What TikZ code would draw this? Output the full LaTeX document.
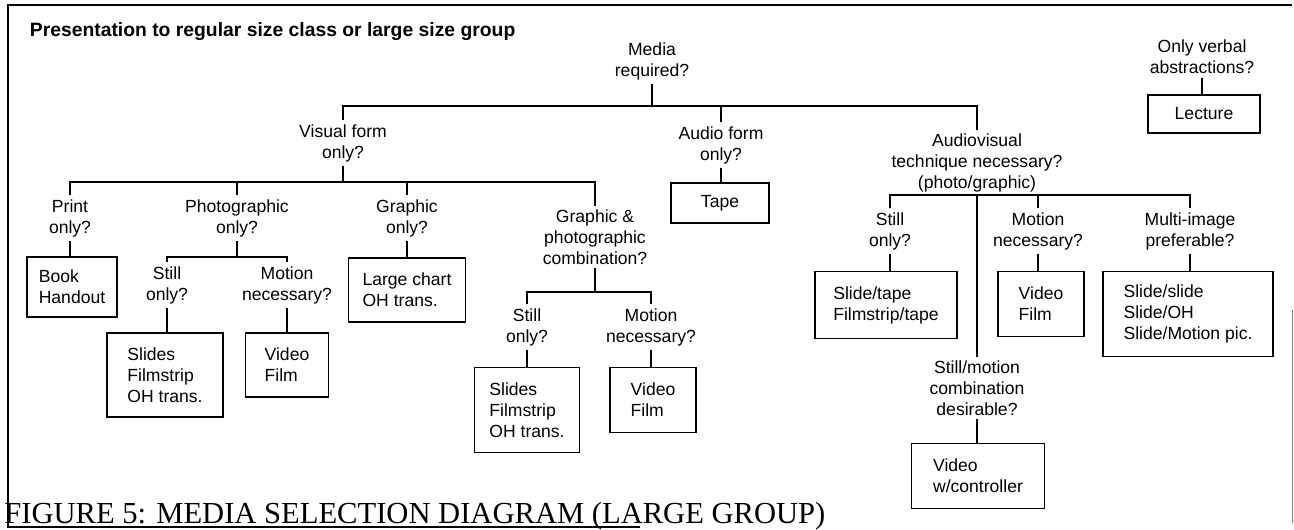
\documentclass[tikz,border=0pt]{standalone}
\usepackage{fontspec}
\setmainfont{Liberation Serif}
\newfontfamily\chartfont{Liberation Sans}

\begin{document}
\begin{tikzpicture}[x = 0.02cm, y = -0.02cm, line join = miter,
	every node/.style = {font = \chartfont\fontsize{10}{12}\selectfont, inner sep = 2pt, align = center},
	answer/.style = {draw, line width = 0.8pt, align = left},
	link/.style = {line width = 1.1pt}]

	% Definition

	\def\U{0.02cm}		% one pixel of the original sheet

	\useasboundingbox (0, 0) rectangle (1294, 529);

	% Frame and captions

	\draw [line width = 0.9pt] (1292, 5) -- (8, 5) -- (8, 527) -- (640, 527);
	\draw [gray, line width = 0.5pt] (1292, 310) -- (1292, 523);

	\node [anchor = west, font = \chartfont\bfseries\fontsize{11}{13}\selectfont] (title) at (26, 32) {Presentation to regular size class or large size group};
	\node [anchor = base west, inner sep = 0pt, font = \rmfamily\fontsize{17.4}{20}\selectfont] (caption) at (4, 523) {FIGURE 5: MEDIA SELECTION DIAGRAM (LARGE GROUP)};

	% Questions

	\node (media) at (652, 61) {Media\\required?};
	\node (visual) at (343, 143) {Visual form\\only?};
	\node (audio) at (721, 145) {Audio form\\only?};
	\node (av) at (977, 163) {Audiovisual\\technique necessary?\\(photo/graphic)};
	\node (verbal) at (1202, 57) {Only verbal\\abstractions?};

	\node (print) at (70, 218) {Print\\only?};
	\node (photo) at (237, 218) {Photographic\\only?};
	\node (graphic) at (407, 218) {Graphic\\only?};
	\node (gp) at (595, 237) {Graphic \&\\photographic\\combination?};

	\node (pstill) at (167, 285) {Still\\only?};
	\node (pmotion) at (287, 285) {Motion\\necessary?};
	\node (gpstill) at (527, 327) {Still\\only?};
	\node (gpmotion) at (651, 327) {Motion\\necessary?};

	\node (avstill) at (890, 231) {Still\\only?};
	\node (avmotion) at (1038, 231) {Motion\\necessary?};
	\node (multi) at (1190, 231) {Multi-image\\preferable?};
	\node (mixed) at (977, 388) {Still/motion\\combination\\desirable?};

	% Media boxes

	\node [answer, minimum width = 90*\U, minimum height = 60*\U] (book) at (72, 287) {Book\\Handout};
	\node [answer, minimum width = 116*\U, minimum height = 84*\U] (pslides) at (165, 375) {Slides\\Filmstrip\\OH trans.};
	\node [answer, minimum width = 83*\U, minimum height = 64*\U] (pvideo) at (287, 365) {Video\\Film};
	\node [answer, minimum width = 117*\U, minimum height = 64*\U] (chart) at (407, 290) {Large chart\\OH trans.};
	\node [answer, minimum width = 105*\U, minimum height = 85*\U] (gpslides) at (527, 410) {Slides\\Filmstrip\\OH trans.};
	\node [answer, minimum width = 86*\U, minimum height = 65*\U] (gpvideo) at (653, 400) {Video\\Film};
	\node [answer, minimum width = 98*\U, minimum height = 40*\U] (tape) at (720, 203) {Tape};
	\node [answer, minimum width = 142*\U, minimum height = 67*\U] (avslide) at (886, 305) {Slide/tape\\Filmstrip/tape};
	\node [answer, minimum width = 86*\U, minimum height = 65*\U] (avvideo) at (1041, 304) {Video\\Film};
	\node [answer, minimum width = 170*\U, minimum height = 85*\U] (multislide) at (1188, 314) {Slide/slide\\Slide/OH\\Slide/Motion pic.};
	\node [answer, minimum width = 133*\U, minimum height = 65*\U] (ctrl) at (978, 476) {Video\\w/controller};
	\node [answer, minimum width = 112*\U, minimum height = 38*\U] (lecture) at (1204, 114) {Lecture};

	% Branch points

	\coordinate (mbus) at (652, 106);
	\coordinate (vbus) at (343, 182);
	\coordinate (pbus) at (237, 257);
	\coordinate (gpbus) at (595, 292);
	\coordinate (avbus) at (977, 195);

	% Connectors

	\begin{scope}[link]

		\draw (media.south) -- (mbus);
		\draw (visual.north) |- (mbus) -| (av.north);
		\draw (audio.north) -- (audio.north |- mbus);
		\draw (audio.south) -- (audio.south |- tape.north);
		\draw (verbal.south) -- (verbal.south |- lecture.north);

		\draw (visual.south) -- (vbus);
		\draw (print.north) |- (vbus) -| (gp.north);
		\draw (photo.north) -- (photo.north |- vbus);
		\draw (graphic.north) -- (graphic.north |- vbus);

		\draw (print.south) -- (print.south |- book.north);
		\draw (graphic.south) -- (graphic.south |- chart.north);

		\draw (photo.south) -- (pbus);
		\draw (pstill.north) |- (pbus) -| (pmotion.north);
		\draw (pstill.south) -- (pstill.south |- pslides.north);
		\draw (pmotion.south) -- (pmotion.south |- pvideo.north);

		\draw (gp.south) -- (gpbus);
		\draw (gpstill.north) |- (gpbus) -| (gpmotion.north);
		\draw (gpstill.south) -- (gpstill.south |- gpslides.north);
		\draw (gpmotion.south) -- (gpmotion.south |- gpvideo.north);

		\draw (av.south) -- (mixed.north);
		\draw (avstill.north) |- (avbus) -| (multi.north);
		\draw (avmotion.north) -- (avmotion.north |- avbus);
		\draw (avstill.south) -- (avstill.south |- avslide.north);
		\draw (avmotion.south) -- (avmotion.south |- avvideo.north);
		\draw (multi.south) -- (multi.south |- multislide.north);
		\draw (mixed.south) -- (mixed.south |- ctrl.north);

	\end{scope}

\end{tikzpicture}
\end{document}
